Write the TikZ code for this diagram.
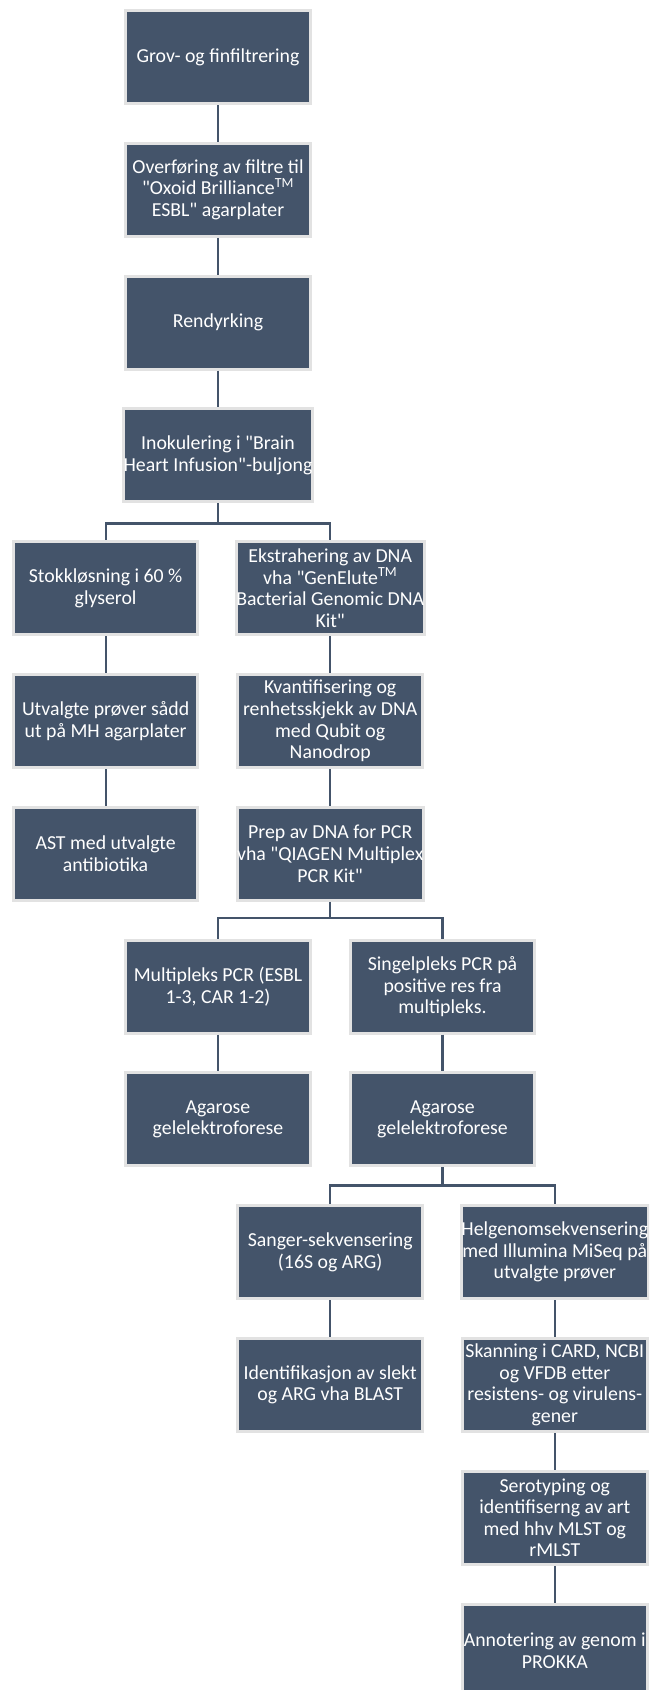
\documentclass[tikz,border=0pt]{standalone}
\usepackage{fontspec}
\setmainfont{Carlito}
\usepackage{tikz}
\usetikzlibrary{positioning,calc}

\definecolor{boxfill}{HTML}{44546A}
\definecolor{boxline}{HTML}{E2E2E2}
\newcommand{\dq}{\textquotedbl}

\begin{document}
\begin{tikzpicture}[x=1pt, y=1pt,
    stepbox/.style={draw=boxline, line width=3pt, fill=boxfill, text=white,
        minimum width=184.6pt, minimum height=93pt, inner sep=0pt, align=center,
        font=\fontsize{19.8}{21.6}\selectfont},
    conn/.style={draw=boxfill, line width=2.2pt}]
  \clip (0,0) rectangle (649,-1690);
  \fill[white] (0,0) rectangle (649,-1690);
  % column centres
  \def\ca{105.6}\def\cb{218}\def\cc{330.2}\def\cd{442.5}\def\ce{554.8}

  % main trunk
  \node[stepbox] (grov)  at (\cb,-57)   {Grov- og finfiltrering};
  \node[stepbox] (overf) at (\cb,-189.8) {Overføring av filtre til\\\dq Oxoid Brilliance\textsuperscript{TM}\\ESBL\dq{} agarplater};
  \node[stepbox] (rend)  at (\cb,-322.6) {Rendyrking};
  \node[stepbox] (inok)  at (\cb,-455.4) {Inokulering i \dq Brain\\Heart Infusion\dq -buljong};

  % left branch
  \node[stepbox] (stokk) at (\ca,-588.2) {Stokkløsning i 60 \%\\glyserol};
  \node[stepbox] (utv)   at (\ca,-721)   {Utvalgte prøver sådd\\ut på MH agarplater};
  \node[stepbox] (ast)   at (\ca,-853.8) {AST med utvalgte\\antibiotika};

  % DNA branch
  \node[stepbox] (ekstr) at (\cc,-588.2) {Ekstrahering av DNA\\vha \dq GenElute\textsuperscript{TM}\\Bacterial Genomic DNA\\Kit\dq};
  \node[stepbox] (kvant) at (\cc,-721)   {Kvantifisering og\\renhetsskjekk av DNA\\med Qubit og\\Nanodrop};
  \node[stepbox] (prep)  at (\cc,-853.8) {Prep av DNA for PCR\\vha \dq QIAGEN Multiplex\\PCR Kit\dq};

  % PCR
  \node[stepbox] (multi)  at (\cb,-986.6)  {Multipleks PCR (ESBL\\1-3, CAR 1-2)};
  \node[stepbox] (agarA)  at (\cb,-1119.4) {Agarose\\gelelektroforese};
  \node[stepbox] (singel) at (\cd,-986.6)  {Singelpleks PCR på\\positive res fra\\multipleks.};
  \node[stepbox] (agarB)  at (\cd,-1119.4) {Agarose\\gelelektroforese};

  % sequencing
  \node[stepbox] (sanger) at (\cc,-1252.2) {Sanger-sekvensering\\(16S og ARG)};
  \node[stepbox] (ident)  at (\cc,-1385)   {Identifikasjon av slekt\\og ARG vha BLAST};
  \node[stepbox] (helgen) at (\ce,-1252.2) {Helgenomsekvensering\\med Illumina MiSeq på\\utvalgte prøver};
  \node[stepbox] (skann)  at (\ce,-1385)   {Skanning i CARD, NCBI\\og VFDB etter\\resistens- og virulens-\\gener};
  \node[stepbox] (sero)   at (\ce,-1517.8) {Serotyping og\\identifiserng av art\\med hhv MLST og\\rMLST};
  \node[stepbox] (annot)  at (\ce,-1650.6) {Annotering av genom i\\PROKKA};

  % connectors
  \draw[conn] (grov) -- (overf);
  \draw[conn] (overf) -- (rend);
  \draw[conn] (rend) -- (inok);
  \draw[conn] (inok.south) -- ++(0,-20) -| (stokk.north);
  \draw[conn] (inok.south) -- ++(0,-20) -| (ekstr.north);
  \draw[conn] (stokk) -- (utv);
  \draw[conn] (utv) -- (ast);
  \draw[conn] (ekstr) -- (kvant);
  \draw[conn] (kvant) -- (prep);
  \draw[conn] (prep.south) -- ++(0,-16.5) -| (multi.north);
  \draw[conn] (prep.south) -- ++(0,-16.5) -| (singel.north);
  \draw[conn] (multi) -- (agarA);
  \draw[conn] (singel) -- (agarB);
  \draw[conn] (agarB.south) -- ++(0,-18) -| (sanger.north);
  \draw[conn] (agarB.south) -- ++(0,-18) -| (helgen.north);
  \draw[conn] (sanger) -- (ident);
  \draw[conn] (helgen) -- (skann);
  \draw[conn] (skann) -- (sero);
  \draw[conn] (sero) -- (annot);
\end{tikzpicture}
\end{document}
